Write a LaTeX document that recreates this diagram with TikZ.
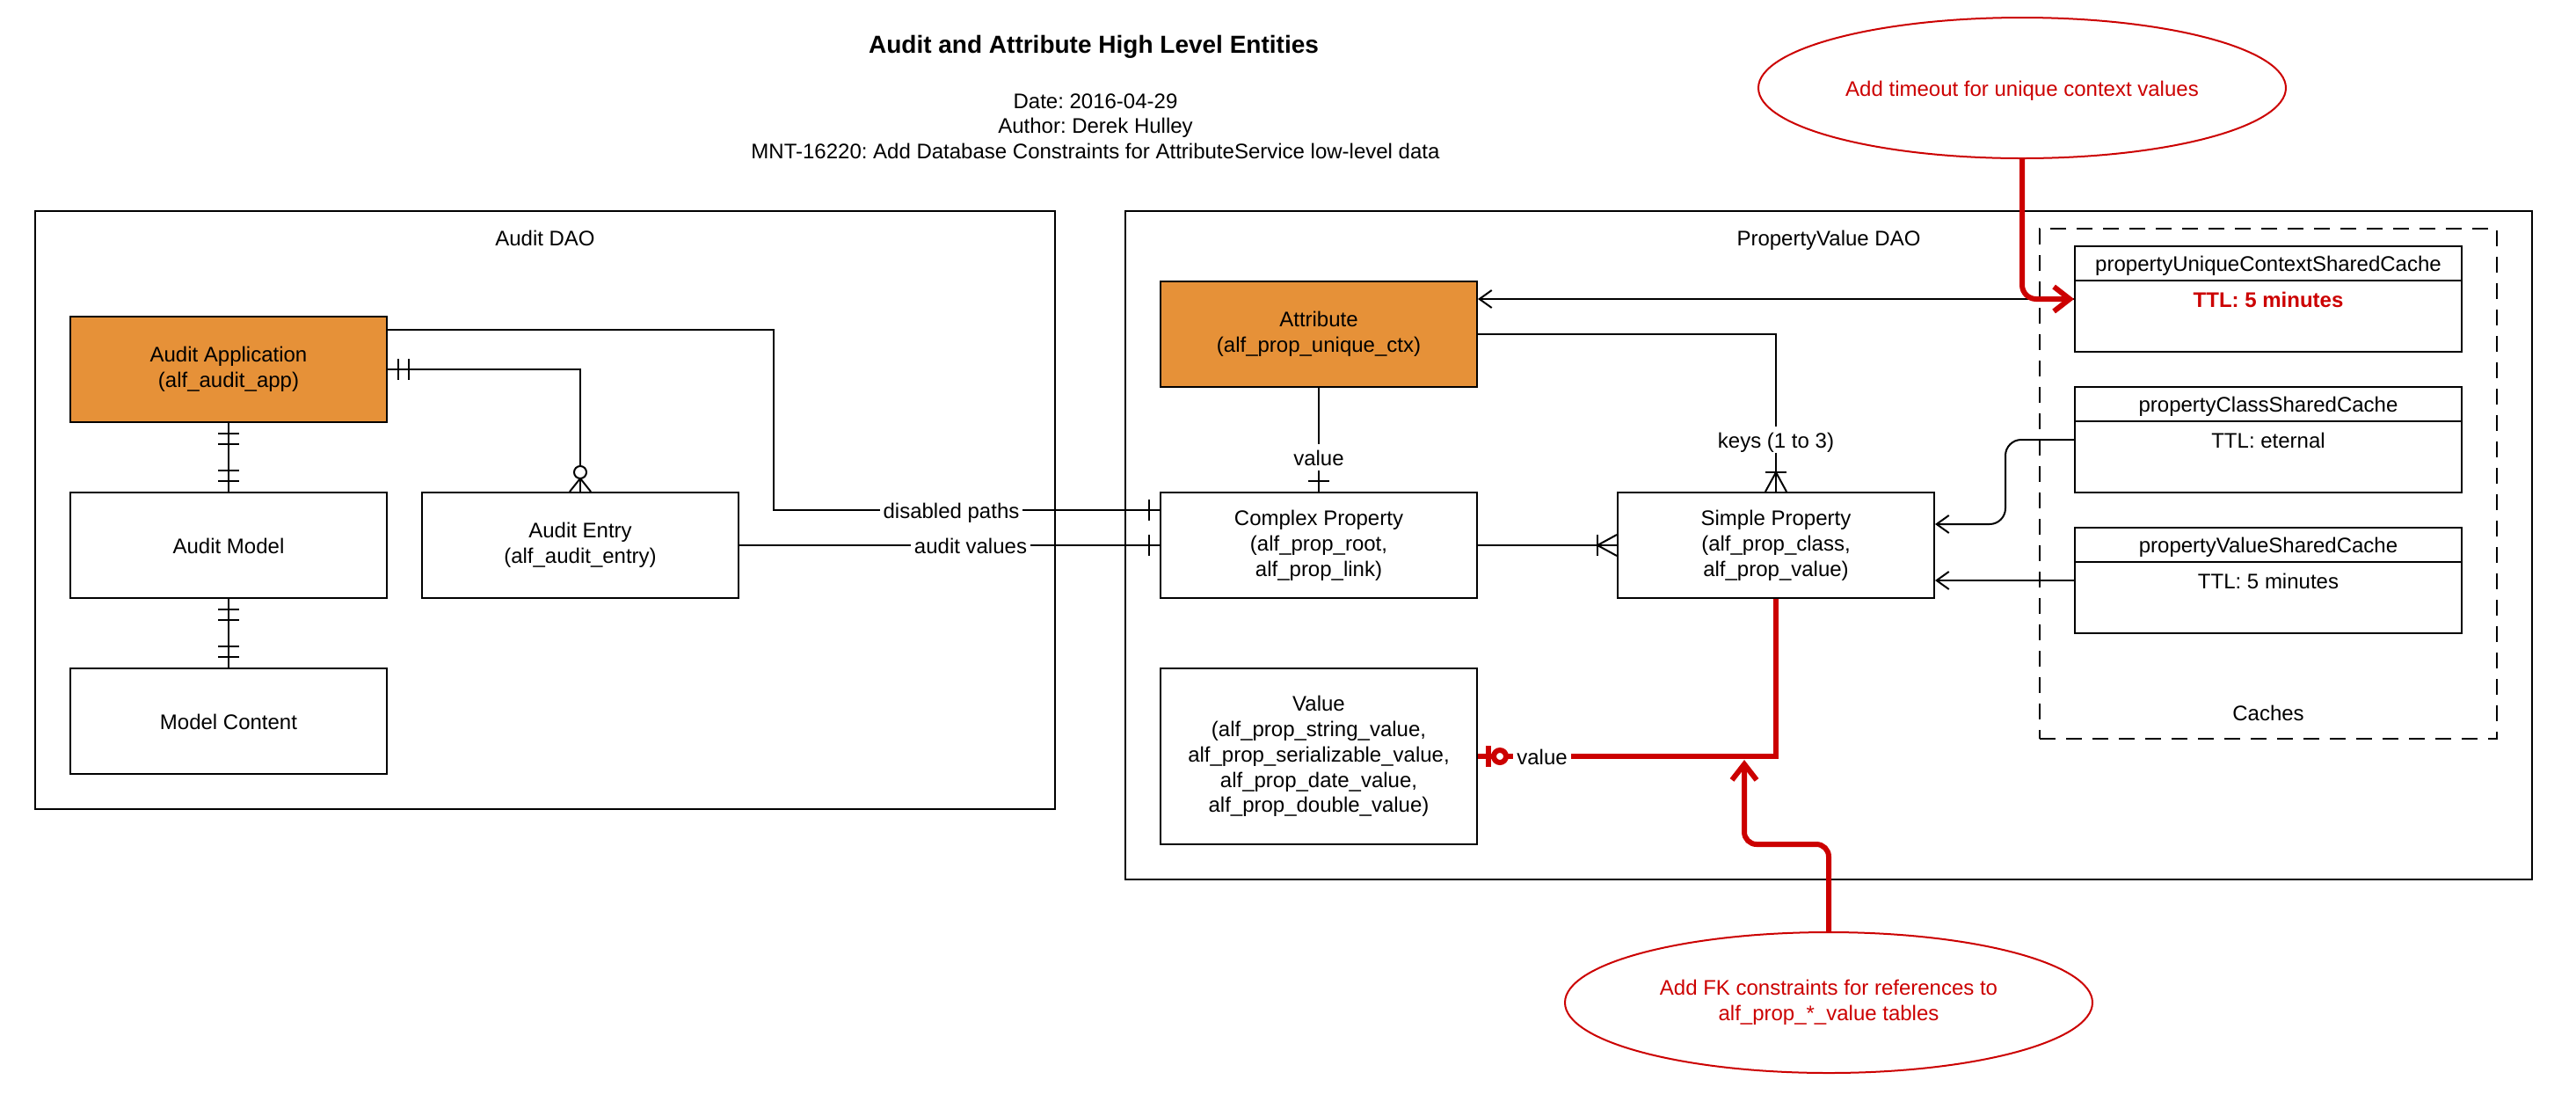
\documentclass[tikz,border=0pt]{standalone}
\usepackage{fontspec}
\setmainfont{Liberation Sans}
\usetikzlibrary{arrows.meta,shapes.geometric,decorations.markings,calc}
\definecolor{orng}{HTML}{E69138}
\definecolor{rd}{HTML}{CC0000}
\begin{document}
\frenchspacing
\begin{tikzpicture}[x=1pt,y=-1pt,
  font=\fontsize{12}{14.4}\selectfont,
  every node/.append style={execute at begin node={\rule{0pt}{11.5pt}},execute at end node={\rule[-2.5pt]{0pt}{0pt}}},
  ml/.style={execute at begin node={\rule{0pt}{14.5pt}}},
  box/.style={draw,line width=1pt,minimum width=180pt,minimum height=60pt,inner sep=0pt,align=center},
  obox/.style={box,fill=orng},
  grp/.style={draw,line width=1pt,inner sep=0pt},
  cache/.style={draw,line width=1pt,minimum width=220pt,minimum height=60pt,inner sep=0pt},
  note/.style={ellipse,draw=rd,line width=1pt,text=rd,minimum width=300pt,minimum height=80pt,inner sep=0pt,align=center},
  conn/.style={line width=1pt},
  redc/.style={line width=3pt,draw=rd},
  lbl/.style={fill=white,inner xsep=2pt,inner ysep=0.5pt},
  oarr/.style={-{Straight Barb[length=7pt,width=10pt]}},
  rarr/.style={-{Straight Barb[length=9pt,width=14pt]}},
  barat/.style={postaction={decorate,decoration={markings,mark=at position #1 with {\draw (0pt,-6pt)--(0pt,6pt);}}}},
  crowend/.style={postaction={decorate,decoration={markings,mark=at position -#1 with {\draw (0pt,0pt)--(#1,6pt) (0pt,0pt)--(#1,-6pt);}}}},
  circat/.style={postaction={decorate,decoration={markings,mark=at position #1 with {\draw[fill=white] (0pt,0pt) circle (3.5pt);}}}},
]
\useasboundingbox[fill=white] (0,0) rectangle (1465,630);

% title
\node[font=\fontsize{14}{17}\selectfont\bfseries] (title) at (622,26) {Audit and Attribute High Level Entities};
\node[align=center] (sub) at (623,73) {Date: 2016-04-29\\Author: Derek Hulley\\MNT-16220: Add Database Constraints for AttributeService low-level data};

% groups
\node[grp,minimum width=580pt,minimum height=340pt] (auditdao) at (310,290) {};
\node (auditdaol) at (310,135) {Audit DAO};
\node[grp,minimum width=800pt,minimum height=380pt] (pvdao) at (1040,310) {};
\node (pvdaol) at (1040,135) {PropertyValue DAO};
\node[draw,line width=1pt,dash pattern=on 9pt off 6pt,minimum width=260pt,minimum height=290pt,inner sep=0pt] (caches) at (1290,275) {};
\node (cachesl) at (1290,405) {Caches};

% audit entities
\node[obox,ml] (app) at (130,210) {Audit Application\\(alf\_audit\_app)};
\node[box] (model) at (130,310) {Audit Model};
\node[box] (content) at (130,410) {Model Content};
\node[box,ml] (entry) at (330,310) {Audit Entry\\(alf\_audit\_entry)};

% property entities
\node[obox,ml] (attr) at (750,190) {Attribute\\(alf\_prop\_unique\_ctx)};
\node[box,ml] (complex) at (750,310) {Complex Property\\(alf\_prop\_root,\\alf\_prop\_link)};
\node[box,ml] (simple) at (1010,310) {Simple Property\\(alf\_prop\_class,\\alf\_prop\_value)};
\node[box,ml,minimum height=100pt] (value) at (750,430) {Value\\(alf\_prop\_string\_value,\\alf\_prop\_serializable\_value,\\alf\_prop\_date\_value,\\alf\_prop\_double\_value)};

% caches
\node[cache,text=rd,font=\fontsize{12}{14.4}\selectfont\bfseries] (c1) at (1290,170) {TTL: 5 minutes};
\draw[line width=1pt] ([yshift=-20pt]c1.north west) -- ([yshift=-20pt]c1.north east);
\node (c1h) at ([yshift=-10pt]c1.north) {propertyUniqueContextSharedCache};
\node[cache] (c2) at (1290,250) {TTL: eternal};
\draw[line width=1pt] ([yshift=-20pt]c2.north west) -- ([yshift=-20pt]c2.north east);
\node (c2h) at ([yshift=-10pt]c2.north) {propertyClassSharedCache};
\node[cache] (c3) at (1290,330) {TTL: 5 minutes};
\draw[line width=1pt] ([yshift=-20pt]c3.north west) -- ([yshift=-20pt]c3.north east);
\node (c3h) at ([yshift=-10pt]c3.north) {propertyValueSharedCache};

% notes
\node[note] (timeout) at (1150,50) {Add timeout for unique context values};
\node[note,ml] (fk) at (1040,570) {Add FK constraints for references to\\alf\_prop\_*\_value tables};

% audit connectors
\draw[conn,barat=6pt,barat=12pt,barat=-6pt,barat=-12pt] (app.south) -- (model.north);
\draw[conn,barat=6pt,barat=12pt,barat=-6pt,barat=-12pt] (model.south) -- (content.north);
\draw[conn,barat=6pt,barat=12pt,circat=-11pt,crowend=7.5pt] (app.east) -| (entry.north);
\coordinate (dpc) at (440,290);
\draw[conn,barat=-6pt] ([yshift=-8pt]app.north east) -| (dpc) -- ([yshift=20pt]complex.west);
\node[lbl] (dpl) at (541,290) {disabled paths};
\draw[conn,barat=-6pt] (entry.east) -- (complex.west);
\node[lbl] (avl) at (552,310) {audit values};

% property connectors
\draw[conn,barat=-6pt] (attr.south) -- (complex.north);
\node[lbl] (vl1) at (750,260) {value};
\draw[conn,crowend=11pt,barat=-11pt] (attr.east) -| (simple.north);
\node[lbl] (kl) at (1010,250) {keys (1 to 3)};
\draw[conn,crowend=11pt,barat=-11pt] (complex.east) -- (simple.west);
\draw[conn,oarr] (c1.west) -- (attr.east |- c1.west);
\draw[conn,oarr,rounded corners=9pt] (c2.west) -| ([xshift=40pt,yshift=12pt]simple.east) -- ([yshift=12pt]simple.east);
\draw[conn,oarr] (c3.west) -- (simple.east |- c3.west);

% red connectors
\draw[redc,barat=-6pt,circat=-12.5pt] (simple.south) |- (value.east);
\node[lbl] (vl2) at (877,430) {value};
\draw[redc,rarr,rounded corners=8pt] (timeout.south) |- (c1.west);
\coordinate (fkc) at (992,480);
\coordinate (fktip) at (992,432);
\draw[redc,rarr,rounded corners=7pt] (fk.north) |- (fkc) -- (fktip);
\end{tikzpicture}
\end{document}
